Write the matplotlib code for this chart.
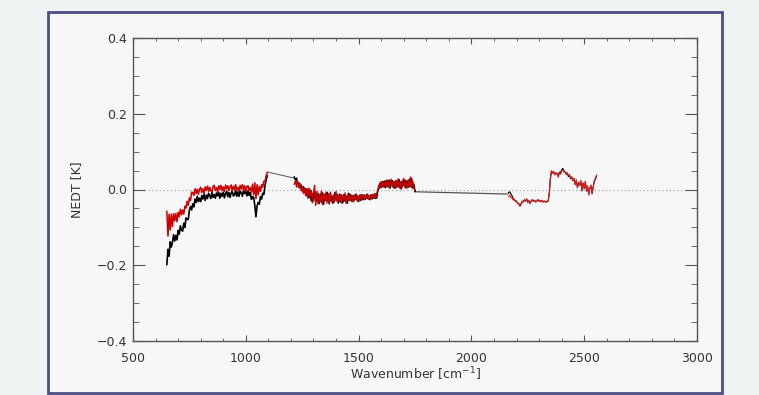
import numpy as np
import matplotlib.pyplot as plt
from matplotlib.patches import Rectangle
from matplotlib.ticker import MultipleLocator

# band 1 (650-1095 cm-1)
wn1 = np.arange(650, 1100, 5)
black1 = [-0.198, -0.158, -0.176, -0.138, -0.152, -0.139, -0.119, -0.136, -0.121, -0.133,
          -0.108, -0.118, -0.096, -0.107, -0.110, -0.089, -0.100, -0.075, -0.079, -0.079,
          -0.054, -0.045, -0.054, -0.038, -0.046, -0.025, -0.034, -0.018, -0.032, -0.023,
          -0.032, -0.016, -0.025, -0.012, -0.029, -0.015, -0.024, -0.010, -0.016, -0.024,
          -0.007, -0.021, -0.013, -0.023, -0.009, -0.017, -0.007, -0.023, -0.010, -0.018,
          -0.007, -0.022, -0.011, -0.004, -0.019, -0.008, -0.021, -0.009, -0.004, -0.017,
          -0.014, -0.002, -0.018, -0.006, -0.018, -0.004, -0.009, -0.018, -0.002, -0.011,
          -0.004, -0.017, -0.003, -0.016, -0.008, -0.026, -0.019, -0.021, -0.042, -0.072,
          -0.043, -0.034, -0.039, -0.019, -0.025, -0.010, -0.013, 0.010, 0.026, 0.036]
red1 = [-0.058, -0.123, -0.065, -0.107, -0.065, -0.098, -0.064, -0.083, -0.063, -0.085,
        -0.060, -0.072, -0.052, -0.067, -0.054, -0.065, -0.044, -0.049, -0.031, -0.042,
        -0.022, -0.029, -0.007, -0.008, -0.016, 0.002, -0.011, 0.001, -0.013, 0.001,
        0.006, -0.008, 0.002, -0.010, 0.007, -0.002, 0.009, -0.006, 0.006, -0.003,
        -0.006, 0.008, 0.011, -0.003, 0.005, -0.006, 0.010, 0.000, 0.011, -0.003,
        0.007, -0.005, 0.012, 0.002, 0.010, -0.003, 0.007, 0.012, -0.005, 0.009,
        0.000, 0.013, -0.002, 0.006, -0.004, 0.011, 0.001, 0.013, -0.001, 0.010,
        -0.005, 0.008, 0.010, -0.003, 0.005, -0.007, 0.014, -0.014, 0.018, -0.024,
        0.013, -0.014, 0.008, -0.005, 0.013, 0.006, 0.022, 0.021, 0.036, 0.045]

# band 2 (1215-1750 cm-1)
wn2 = np.arange(1215, 1755, 5)
red2 = [0.014, 0.023, 0.006, 0.020, 0.005, 0.016, -0.003, 0.005, -0.010, 0.004,
        -0.016, 0.002, -0.023, 0.004, -0.018, -0.002, -0.035, -0.010, 0.011, -0.042,
        -0.005, -0.038, -0.015, -0.031, -0.004, -0.040, -0.012, -0.026, -0.008, -0.036,
        -0.011, -0.034, -0.007, -0.027, -0.037, -0.014, -0.030, -0.005, -0.032, -0.016,
        -0.032, -0.013, -0.036, -0.016, -0.027, -0.009, -0.037, -0.018, -0.030, -0.011,
        -0.029, -0.015, -0.033, -0.017, -0.026, -0.012, -0.031, -0.019, -0.028, -0.013,
        -0.025, -0.014, -0.027, -0.016, -0.023, -0.012, -0.026, -0.017, -0.024, -0.013,
        -0.023, -0.011, -0.024, -0.012, -0.001, 0.012, 0.004, 0.021, 0.008, 0.021,
        0.006, 0.023, 0.009, 0.025, 0.004, 0.019, 0.027, 0.007, 0.021, 0.003,
        0.024, 0.008, 0.028, 0.005, 0.019, 0.001, 0.022, 0.029, 0.006, 0.018,
        0.004, 0.025, 0.007, 0.033, 0.005, 0.022, 0.004, -0.002]
black2 = [0.033, 0.025, 0.030, 0.012, 0.018, 0.004, 0.012, -0.004, 0.008, -0.008,
          0.002, -0.016, 0.001, -0.022, -0.002, -0.030, -0.011, -0.030, -0.005, -0.026,
          -0.031, -0.010, -0.037, -0.012, -0.034, -0.009, -0.039, -0.013, -0.029, -0.007,
          -0.015, -0.038, -0.010, -0.031, -0.018, -0.035, -0.008, -0.028, -0.013, -0.036,
          -0.012, -0.033, -0.015, -0.035, -0.013, -0.031, -0.017, -0.036, -0.010, -0.029,
          -0.014, -0.031, -0.016, -0.030, -0.013, -0.027, -0.017, -0.032, -0.015, -0.029,
          -0.014, -0.027, -0.015, -0.026, -0.013, -0.024, -0.016, -0.027, -0.014, -0.025,
          -0.014, -0.023, -0.012, -0.023, -0.004, 0.003, 0.017, 0.005, 0.021, 0.007,
          0.022, 0.005, 0.024, 0.007, 0.025, 0.004, 0.018, 0.023, 0.005, 0.020,
          0.004, 0.023, 0.007, 0.026, 0.003, 0.021, 0.008, 0.019, 0.025, 0.004,
          0.023, 0.006, 0.027, 0.008, 0.029, 0.004, 0.014, -0.005]

# band 3 (2165-2555 cm-1)
wn3 = np.arange(2165, 2560, 5)
red3 = [-0.018, -0.015, -0.022, -0.020, -0.028, -0.025, -0.032, -0.030, -0.038, -0.036,
        -0.045, -0.040, -0.030, -0.034, -0.026, -0.030, -0.024, -0.035, -0.028, -0.038,
        -0.030, -0.026, -0.032, -0.028, -0.034, -0.030, -0.026, -0.032, -0.028, -0.033,
        -0.029, -0.034, -0.030, -0.034, -0.031, -0.030,
        -0.010, 0.030, 0.050, 0.042, 0.048, 0.038, 0.045, 0.040, 0.032, 0.044,
        0.040, 0.048, 0.052, 0.046, 0.048, 0.042, 0.045, 0.036, 0.040, 0.030,
        0.034, 0.022, 0.030, 0.012, 0.026, 0.004, 0.020, 0.010, 0.024, -0.004,
        0.018, 0.002, 0.022, -0.005, 0.010, -0.015, 0.004, 0.012, -0.012, 0.008,
        0.024, 0.030, 0.038]
black3 = [-0.008, -0.006, -0.012, -0.016, -0.024, -0.027, -0.030, -0.032, -0.036, -0.038,
          -0.042, -0.038, -0.032, -0.032, -0.028, -0.031, -0.026, -0.033, -0.030, -0.036,
          -0.031, -0.028, -0.030, -0.029, -0.032, -0.031, -0.028, -0.030, -0.029, -0.031,
          -0.030, -0.032, -0.031, -0.033, -0.032, -0.031,
          -0.012, 0.028, 0.048, 0.044, 0.046, 0.040, 0.043, 0.042, 0.036, 0.046,
          0.044, 0.052, 0.056, 0.050, 0.046, 0.040, 0.043, 0.034, 0.038, 0.028,
          0.032, 0.024, 0.028, 0.014, 0.024, 0.006, 0.018, 0.012, 0.022, -0.002,
          0.016, 0.004, 0.020, -0.003, 0.008, -0.012, 0.002, 0.010, -0.010, 0.006,
          0.022, 0.028, 0.036]

# gaps bridged by a thin line
gap1_wn = [1097, 1215]
gap1_val = [0.046, 0.030]
gap2_wn = [1750, 2160, 2165]
gap2_val = [-0.006, -0.012, -0.008]

fig = plt.figure(figsize=(7.59, 3.95), dpi=100, facecolor="#eef3f4")
fig.patches.append(Rectangle((48 / 759, 2 / 395), 674 / 759, 381 / 395,
                             transform=fig.transFigure, facecolor="#f7f7f7",
                             edgecolor="#4b4f85", linewidth=2, zorder=-1))

ax = fig.add_axes([133 / 759, 54 / 395, 564 / 759, 303 / 395])
ax.set_facecolor("#f7f7f7")

ax.axhline(0, color="#aaaaaa", linestyle=(0, (1, 2)), linewidth=0.9, zorder=1)

ax.plot(gap1_wn, gap1_val, color="#555555", linewidth=0.7, zorder=2)
ax.plot(gap2_wn, gap2_val, color="#555555", linewidth=0.9, zorder=2)

ax.plot(wn1, black1, color="black", linewidth=1.2, zorder=3)
ax.plot(wn2, black2, color="black", linewidth=1.1, zorder=3)
ax.plot(wn3, black3, color="black", linewidth=0.8, zorder=3)
ax.plot(wn1, red1, color="#cc0000", linewidth=1.1, zorder=4)
ax.plot(wn2, red2, color="#cc0000", linewidth=1.0, zorder=4)
ax.plot(wn3, red3, color="#d42020", linewidth=0.8, zorder=4)

ax.set_xlim(500, 3000)
ax.set_ylim(-0.4, 0.4)
ax.xaxis.set_major_locator(MultipleLocator(500))
ax.xaxis.set_minor_locator(MultipleLocator(100))
ax.yaxis.set_major_locator(MultipleLocator(0.2))
ax.yaxis.set_minor_locator(MultipleLocator(0.05))
ax.yaxis.set_major_formatter(plt.FuncFormatter(lambda v, p: f"{v:.1f}".replace("-", "\u2212")))

for s in ax.spines.values():
    s.set_color("#555555")
    s.set_linewidth(1.0)

ax.tick_params(axis="both", which="both", direction="in", top=True, right=True,
               color="#555555", labelsize=9, labelcolor="#333333")
ax.tick_params(axis="x", which="major", length=4.3, pad=8)
ax.tick_params(axis="x", which="minor", length=2.2)
ax.tick_params(axis="y", which="major", length=8.6, pad=4)
ax.tick_params(axis="y", which="minor", length=4.3)

ax.set_xlabel("Wavenumber [cm$^{-1}$]", fontsize=9, color="#333333", labelpad=0)
ax.set_ylabel("NEDT [K]", fontsize=9, color="#333333", labelpad=10)

plt.savefig("out.png", dpi=100, facecolor=fig.get_facecolor())
